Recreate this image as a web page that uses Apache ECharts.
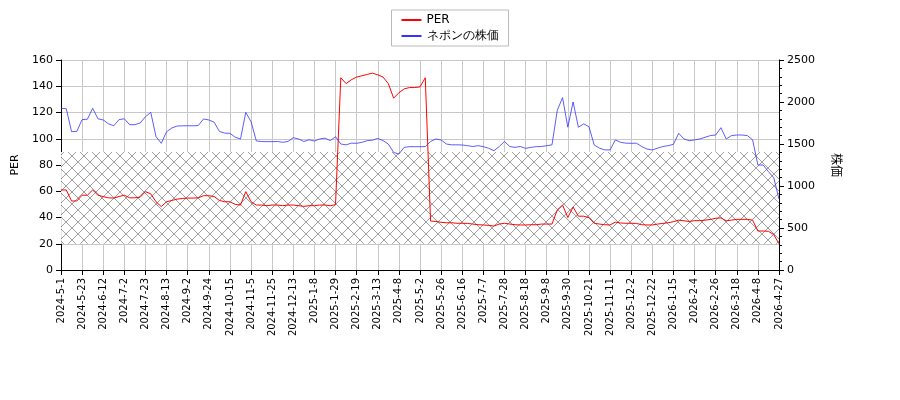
<!DOCTYPE html>
<html><head><meta charset="utf-8">
<script src="https://cdn.jsdelivr.net/npm/echarts@6/dist/echarts.min.js"></script>
<style>html,body{margin:0;padding:0;background:#fff}#c{width:900px;height:400px}</style>
</head><body><div id="c"></div>
<script>
const tickLabels = ['2024-5-1','2024-5-23','2024-6-12','2024-7-2','2024-7-23','2024-8-13','2024-9-2','2024-9-24','2024-10-15','2024-11-5','2024-11-25','2024-12-13','2025-1-8','2025-1-29','2025-2-19','2025-3-13','2025-4-8','2025-5-2','2025-5-26','2025-6-16','2025-7-7','2025-7-28','2025-8-18','2025-9-8','2025-9-30','2025-10-21','2025-11-11','2025-12-2','2025-12-22','2026-1-15','2026-2-4','2026-2-26','2026-3-18','2026-4-8','2026-4-27'];
const price = [
1925,1920,1647,1650, 1790,1795,1925,1800, 1786,1740,1718,1790, 1800,1730,1730,1750,
1825,1877,1587,1508, 1647,1690,1714,1716, 1718,1716,1720,1798, 1786,1760,1650,1630,
1627,1580,1560,1877, 1766,1536,1530,1528, 1528,1530,1520,1530, 1575,1560,1530,1550,
1536,1560,1570,1540, 1587,1500,1490,1510, 1508,1520,1540,1545, 1567,1540,1500,1400,
1380,1460,1468,1468, 1468,1470,1530,1560, 1548,1500,1490,1490, 1488,1480,1470,1480,
1468,1450,1420,1470, 1530,1470,1460,1470, 1448,1460,1468,1470, 1480,1490,1900,2052,
1700,2000,1700,1740, 1706,1488,1450,1430, 1429,1548,1520,1510, 1508,1510,1470,1440,
1429,1450,1470,1480, 1496,1627,1560,1540, 1548,1560,1580,1600, 1607,1694,1560,1600,
1607,1607,1600,1550, 1250,1250,1171,1100, 845];
const per = [
61,61,52.6,52.6, 57,57,61,57, 55.9,55,54.8,56, 57,55,55,55.5,
59.7,58,52,48.3, 52,53,54,54.5, 54.8,54.8,55,56.6, 56.6,56,53,52,
52,50,49.5,59.7, 52,49.5,49.5,49, 49.5,49.5,49,49.5, 49.5,49,48.5,49,
49,49.5,49.5,49, 49.8,146.5,142,145, 147,148,149,150, 148.7,147,142,131,
135,138,139,139, 139.5,146.5,37.3,37, 36.3,36,36,35.6, 35.6,35.5,35,34.5,
34.3,34,33.5,35, 35.6,35,34.5,34.3, 34.3,34.5,34.5,35, 35,35,45.7,49.5,
40,48,41,41, 39.9,35.6,35,34.5, 34.3,36.5,35.8,35.6, 35.6,35.5,34.5,34.3,
34.3,35,35.5,36, 36.8,38,37.5,37, 37.6,37.6,38,38.5, 39.4,39.7,37.5,38,
38.6,38.6,38.6,38, 29.7,29.7,29.5,27, 20];
const band = [20, 90];

const cats = [];
tickLabels.forEach((l, i) => {
  cats.push(l);
  if (i < tickLabels.length - 1) for (let k = 1; k < 4; k++) cats.push(l + '+' + k);
});

const pc = document.createElement('canvas');
pc.width = 12; pc.height = 12;
const g = pc.getContext('2d');
g.fillStyle = '#fff'; g.fillRect(0, 0, 12, 12);
g.strokeStyle = '#888'; g.lineWidth = 0.9;
g.beginPath(); g.moveTo(0, 0); g.lineTo(12, 12); g.moveTo(12, 0); g.lineTo(0, 12); g.stroke();

const font = 'DejaVu Sans';
const chart = echarts.init(document.getElementById('c'));
chart.setOption({
  animation: false,
  textStyle: { fontFamily: font },
  legend: {
    top: 10, left: 'center', orient: 'vertical', itemGap: 4,
    borderColor: '#bbb', borderWidth: 1, borderRadius: 0, padding: [4, 10],
    itemWidth: 20, itemHeight: 2, icon: 'rect',
    textStyle: { fontFamily: font, fontSize: 12, color: '#000' },
    data: ['PER', 'ネポンの株価']
  },
  grid: { left: 61, right: 121, top: 60, bottom: 130 },
  xAxis: {
    type: 'category', data: cats, boundaryGap: false,
    axisLine: { lineStyle: { color: '#000' } },
    axisTick: { interval: 3, lineStyle: { color: '#000' } },
    axisLabel: { interval: 3, rotate: 90, fontSize: 10, color: '#000', fontFamily: font, formatter: v => v.split('+')[0] },
    splitLine: { show: true, interval: 3, lineStyle: { color: '#c8c8c8' } }
  },
  yAxis: [
    { type: 'value', min: 0, max: 160, interval: 20, name: 'PER', nameLocation: 'middle', nameGap: 38,
      nameTextStyle: { fontSize: 11, color: '#000' },
      axisLine: { show: true, lineStyle: { color: '#000' } }, axisTick: { show: true },
      axisLabel: { fontSize: 11, color: '#000' },
      splitLine: { lineStyle: { color: '#c8c8c8' } } },
    { type: 'value', min: 0, max: 2500, interval: 500, name: '株価', nameLocation: 'middle', nameGap: 52, nameRotate: -90,
      nameTextStyle: { fontSize: 12, color: '#000', fontFamily: 'Noto Sans CJK JP' },
      axisLine: { show: true, lineStyle: { color: '#000' } }, axisTick: { show: true },
      minorTick: { show: true, splitNumber: 5, lineStyle: { color: '#000' } },
      axisLabel: { fontSize: 11, color: '#000', formatter: v => String(v) }, splitLine: { show: false } }
  ],
  series: [
    { name: 'PER', type: 'line', data: per, symbol: 'none', yAxisIndex: 0,
      lineStyle: { color: '#ff0000', width: 1 }, itemStyle: { color: '#ff0000' }, z: 3,
      markArea: { silent: true, itemStyle: { color: { image: pc, repeat: 'repeat' }, opacity: 0.9 },
        data: [[{ yAxis: band[0] }, { yAxis: band[1] }]] } },
    { name: 'ネポンの株価', type: 'line', data: price, symbol: 'none', yAxisIndex: 1,
      lineStyle: { color: '#3333ff', width: 0.8 }, itemStyle: { color: '#3333ff' }, z: 3 }
  ]
});
</script></body></html>
